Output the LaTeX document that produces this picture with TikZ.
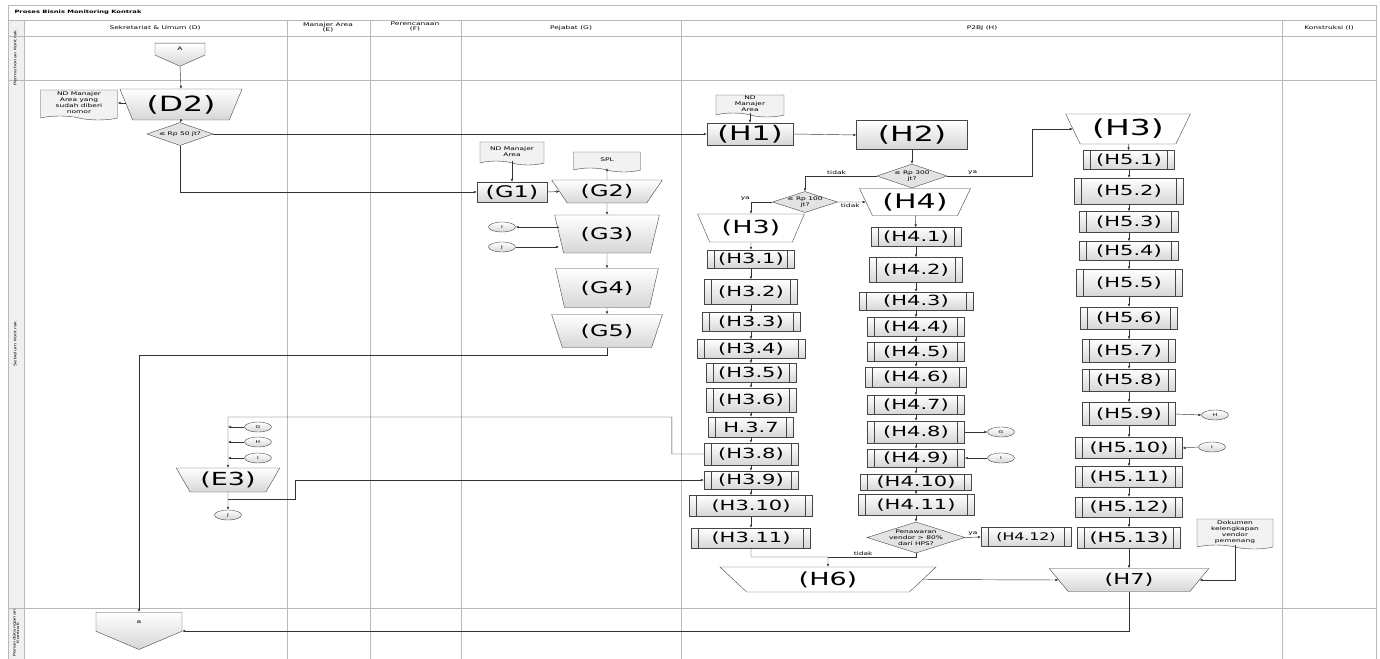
\documentclass[tikz,border=0pt]{standalone}
\usepackage{fontspec}
\setmainfont{DejaVu Sans}[FakeStretch=1.5]
\usetikzlibrary{shapes.geometric,shapes.symbols,arrows.meta,positioning}
\newcommand{\fsz}[1]{\fontsize{#1}{#1}\selectfont}
\newcommand{\dtext}[1]{\makebox[0pt]{\smash{\raisebox{-1.6pt}{\begin{tabular}{@{}c@{}}#1\end{tabular}}}}}

\tikzset{
  lane/.style={draw=gray!55, line width=0.9pt},
  conn/.style={draw=gray!40!black, line width=0.45pt, -{Latex[length=3pt,width=2.6pt]}},
  link/.style={draw=gray!40!black, line width=0.45pt},
  grayfill/.style={top color=white, bottom color=gray!32},
  task/.style 2 args={rectangle, draw=gray!55!black, grayfill, minimum width=#1, minimum height=#2, inner sep=0pt},
  proc/.style 2 args={task={#1}{#2}, font=\fsz{14}, path picture={
      \draw[gray!55!black] ([xshift=7pt]path picture bounding box.north west) -- ([xshift=7pt]path picture bounding box.south west);
      \draw[gray!55!black] ([xshift=-7pt]path picture bounding box.north east) -- ([xshift=-7pt]path picture bounding box.south east);}},
  manop/.style 2 args={trapezium, trapezium stretches=true, trapezium left angle=118, trapezium right angle=118, draw=gray!55!black, fill=white, minimum width=#1, minimum height=#2, inner sep=0pt},
  tang/.style={trapezium left angle=#1, trapezium right angle=#1},
  decision/.style 2 args={diamond, draw=gray!55!black, fill=gray!22, minimum width=#1, minimum height=#2, inner sep=0pt, font=\fontsize{5}{6}\selectfont},
  jump/.style={ellipse, draw=gray!55!black, grayfill, minimum width=27, minimum height=10, inner sep=0pt, font=\fsz{4}},
  doc/.style 2 args={tape, tape bend top=none, tape bend bottom=out and in, tape bend height=4pt, draw=gray!55!black, fill=gray!10, minimum width=#1, minimum height=#2, inner sep=0pt, align=center, font=\fontsize{5}{6}\selectfont},
  offpage/.style 2 args={signal, signal to=south, signal from=nowhere, draw=gray!55!black, grayfill, minimum width=#1, minimum height=#2, inner sep=0pt, font=\fsz{5}},
  lbl/.style={font=\fsz{5}, inner sep=1pt},
  head/.style={font=\fsz{5}, align=center, inner sep=0pt},
  side/.style={font=\fsz{3.5}, rotate=90, inner sep=0pt, align=center},
}

\begin{document}
\begin{tikzpicture}[x=1pt, y=-1pt]
\useasboundingbox (0,0) rectangle (1380,658);
% swimlanes
\fill[gray!12] (8,20) rectangle (24,665);
\draw[lane] (8,5) rectangle (1376,665);
\draw[lane] (8,20) -- (1376,20);
\draw[lane] (8,36) -- (1376,36);
\draw[lane] (8,80) -- (1376,80);
\draw[lane] (8,608) -- (1376,608);
\draw[lane] (24,20) -- (24,665);
\draw[lane] (287,20) -- (287,665);
\draw[lane] (370,20) -- (370,665);
\draw[lane] (461,20) -- (461,665);
\draw[lane] (681,20) -- (681,665);
\draw[lane] (1282,20) -- (1282,665);
\node[font=\fsz{4.5}\bfseries, anchor=west] (title) at (11,12) {Proses Bisnis Monitoring Kontrak};
\node[head] (hD) at (155,28) {Sekretariat \& Umum (D)};
\node[head] (hE) at (328,27) {Manajer Area\\(E)};
\node[head] (hF) at (415,27) {Perencanaan\\(F)};
\node[head] (hG) at (571,28) {Pejabat (G)};
\node[head] (hH) at (982,28) {P2BJ (H)};
\node[head] (hI) at (1329,28) {Konstruksi (I)};
\node[side] (r1) at (15,58) {Permohonan Kontrak};
\node[side] (r2) at (15,344) {Sebelum Kontrak};
\node[side] (r3) at (16,633) {Penandatanganan\\Kontrak};

% Sekretariat & Umum
\node[offpage={50}{13}, signal pointer angle=132, anchor=north] (offA) at (180,43) {A};
\node[manop={123}{31}, tang=116, grayfill, font=\fsz{21}] (D2) at (181,104.5) {(D2)};
\node[doc={77}{30}] (docD) at (79,103) {ND Manajer\\Area yang\\sudah diberi\\nomor};
\node[decision={66}{23}] (dec50) at (180,134) {\dtext{≤ Rp 50 jt?}};
\node[jump] (circG1) at (258,427) {G};
\node[jump] (circH1) at (258,442) {H};
\node[jump] (circI4) at (258,458) {I};
\coordinate (jE) at (228,417);
\node[manop={104}{24}, tang=122, grayfill, font=\fsz{18}] (E3) at (228,480) {(E3)};
\node[jump] (circJ2) at (228,515) {J};
\node[offpage={86}{20}, signal pointer angle=134, anchor=north] (offa) at (139,612) {a};
\path (offa.north) ++(0,19) coordinate (aIn);

% Pejabat
\node[doc={64}{23}] (docG) at (512,151.5) {ND Manajer\\Area};
\node[task={70}{20}, font=\fsz{16}] (G1) at (512,192) {(G1)};
\node[manop={111}{23}, tang=126, grayfill, font=\fsz{16}] (G2) at (607,191.5) {(G2)};
\node[doc={67}{20}] (docSPL) at (607,160) {SPL};
\node[manop={105}{38}, tang=111, grayfill, font=\fsz{16}] (G3) at (607,234) {(G3)};
\node[jump] (circI1) at (502,227) {I};
\node[jump] (circJ1) at (502,247) {J};
\node[manop={103}{39}, tang=111, grayfill, font=\fsz{16}] (G4) at (607,288) {(G4)};
\node[manop={111}{33}, tang=114, grayfill, font=\fsz{16}] (G5) at (607,331) {(G5)};

% P2BJ
\node[doc={68}{22}] (docH) at (750,104) {ND\\Manajer\\Area};
\node[task={86}{22}, font=\fsz{20}] (H1) at (750,134) {(H1)};
\node[task={111}{29}, font=\fsz{21}] (H2) at (912,135) {(H2)};
\node[decision={70}{24}] (dec300) at (912,176) {\dtext{≤ Rp 300\\jt?}};
\node[manop={125}{30}, tang=119, font=\fsz{22}] (H3r) at (1128,129) {(H3)};
\node[decision={65}{21}] (dec100) at (805,202) {\dtext{≤ Rp 100\\jt?}};
\node[manop={112}{27}, tang=119, font=\fsz{20}] (H4) at (915,202) {(H4)};
\node[manop={107}{28}, tang=118, font=\fsz{18}] (H3l) at (751,228) {(H3)};

\node[proc={87}{18}] (H31) at (751,259) {(H3.1)};
\node[proc={93}{25}] (H32) at (751,292) {(H3.2)};
\node[proc={98}{19}] (H33) at (751,322) {(H3.3)};
\node[proc={108}{19}] (H34) at (751,349) {(H3.4)};
\node[proc={90}{19}] (H35) at (751,373) {(H3.5)};
\node[proc={90}{24}] (H36) at (751,400) {(H3.6)};
\node[proc={85}{20}] (H37) at (751,427) {H.3.7};
\node[proc={94}{22}] (H38) at (751,454) {(H3.8)};
\node[proc={94}{18}] (H39) at (751,480) {(H3.9)};
\node[proc={123}{21}] (H310) at (751,506) {(H3.10)};
\node[proc={119}{20}] (H311) at (751,538) {(H3.11)};

\node[proc={90}{19}] (H41) at (916,237) {(H4.1)};
\node[proc={93}{25}] (H42) at (916,270) {(H4.2)};
\node[proc={114}{18}] (H43) at (916,301) {(H4.3)};
\node[proc={97}{19}] (H44) at (916,327) {(H4.4)};
\node[proc={97}{19}] (H45) at (916,352) {(H4.5)};
\node[proc={101}{20}] (H46) at (916,377) {(H4.6)};
\node[proc={97}{19}] (H47) at (916,405) {(H4.7)};
\node[proc={97}{22}] (H48) at (916,432) {(H4.8)};
\node[proc={97}{18}] (H49) at (916,458) {(H4.9)};
\node[proc={111}{16}] (H410) at (916,482) {(H4.10)};
\node[proc={116}{21}] (H411) at (916,505) {(H4.11)};
\node[decision={98}{31}] (decPen) at (916,537.5) {\dtext{Penawaran\\vendor > 80\%\\dari HPS?}};
\node[proc={90}{19}, font=\fsz{10.5}] (H412) at (1026,537) {(H4.12)};
\node[jump] (circG2) at (1001,432) {G};
\node[jump] (circI2) at (1001,458) {I};

\node[proc={91}{19}] (H51) at (1129,160) {(H5.1)};
\node[proc={109}{26}] (H52) at (1129,191) {(H5.2)};
\node[proc={99}{21}] (H53) at (1129,222) {(H5.3)};
\node[proc={99}{19}] (H54) at (1129,251) {(H5.4)};
\node[proc={106}{27}] (H55) at (1129,283) {(H5.5)};
\node[proc={97}{22}] (H56) at (1129,318) {(H5.6)};
\node[proc={93}{23}] (H57) at (1129,351) {(H5.7)};
\node[proc={93}{22}] (H58) at (1129,380) {(H5.8)};
\node[proc={93}{23}] (H59) at (1129,414) {(H5.9)};
\node[proc={107}{21}] (H510) at (1129,448) {(H5.10)};
\node[proc={107}{21}] (H511) at (1129,477) {(H5.11)};
\node[proc={107}{20}] (H512) at (1129,507) {(H5.12)};
\node[proc={103}{21}] (H513) at (1129,538) {(H5.13)};
\node[jump] (circH2) at (1215,415) {H};
\node[jump] (circI3) at (1212,447) {I};
\node[doc={76}{30}] (docK) at (1235,532) {Dokumen\\kelengkapan\\vendor\\pemenang};

\coordinate (jH6) at (828,557);
\node[manop={217}{25}, tang=121, font=\fsz{18}] (H6) at (828,579.5) {(H6)};
\node[manop={160}{23}, tang=119.5, grayfill, font=\fsz{15}] (H7) at (1129,580) {(H7)};

% connectors
\draw[conn] (offA.south) -- (D2.north);
\draw[conn] (D2.west |- docD.east) -- (docD.east);
\draw[conn] (D2.south) -- (dec50.north);
\draw[conn] (dec50.east) -- (H1.west);
\draw[conn] (dec50.south) |- (G1.west);
\draw[conn] (docG.south) -- (G1.north);
\draw[conn] (G1.east) -- (G2.west);
\draw[conn] (G2.north) -- (docSPL.south);
\draw[conn] (G2.south) -- (G3.north);
\draw[conn] (G3.west |- circI1) -- (circI1.east);
\draw[conn] (circJ1.east) -- (G3.west |- circJ1);
\draw[conn] (G3.south) -- (G4.north);
\draw[conn] (G4.south) -- (G5.north);
\draw[conn] (G5.south) -- ++(0,8) -| (offa.north);

\draw[conn] (H38.west) -- ++(-32,0) |- (jE) -- (E3.north);
\draw[conn] (circG1.west) -- (circG1 -| jE);
\draw[conn] (circH1.west) -- (circH1 -| jE);
\draw[conn] (circI4.west) -- (circI4 -| jE);
\draw[conn] (E3.south) -- (circJ2.north);
\draw[conn] ([yshift=-7pt]E3.south) -- ++(67,0) |- (H39.west);

\draw[conn] (docH.south) -- (H1.north);
\draw[conn] (H1.east) -- (H2.west);
\draw[conn] (H2.south) -- (dec300.north);
\draw[conn] (dec300.east) -- ++(85,0) node[lbl, above, pos=0.3] {ya} |- (H3r.west);
\draw[conn] (dec300.west) -| node[lbl, above, pos=0.28] {tidak} (dec100.north);
\draw[conn] (dec100.west) -| node[lbl, above left, pos=0.5] {ya} (H3l.north);
\draw[conn] (dec100.east) -- node[lbl, below, pos=0.45] {tidak} (H4.west);

\draw[conn] (H3l) -- (H31);
\draw[conn] (H31) -- (H32);
\draw[conn] (H32) -- (H33);
\draw[conn] (H33) -- (H34);
\draw[conn] (H34) -- (H35);
\draw[conn] (H35) -- (H36);
\draw[conn] (H36) -- (H37);
\draw[conn] (H37) -- (H38);
\draw[conn] (H38) -- (H39);
\draw[conn] (H39) -- (H310);
\draw[conn] (H310) -- (H311);
\draw[conn] (H311.south) |- (jH6) -- (H6.north);

\draw[conn] (H4) -- (H41);
\draw[conn] (H41) -- (H42);
\draw[conn] (H42) -- (H43);
\draw[conn] (H43) -- (H44);
\draw[conn] (H44) -- (H45);
\draw[conn] (H45) -- (H46);
\draw[conn] (H46) -- (H47);
\draw[conn] (H47) -- (H48);
\draw[conn] (H48) -- (H49);
\draw[conn] (H49) -- (H410);
\draw[conn] (H410) -- (H411);
\draw[conn] (H411) -- (decPen);
\draw[conn] (decPen.east) -- node[lbl, above, pos=0.5] {ya} (H412.west);
\draw[link] (decPen.south) |- node[lbl, above, pos=0.8] {tidak} (jH6);
\draw[conn] (H48.east) -- (circG2.west);
\draw[conn] (circI2.west) -- (H49.east);

\draw[conn] (H3r) -- (H51);
\draw[conn] (H51) -- (H52);
\draw[conn] (H52) -- (H53);
\draw[conn] (H53) -- (H54);
\draw[conn] (H54) -- (H55);
\draw[conn] (H55) -- (H56);
\draw[conn] (H56) -- (H57);
\draw[conn] (H57) -- (H58);
\draw[conn] (H58) -- (H59);
\draw[conn] (H59) -- (H510);
\draw[conn] (H510) -- (H511);
\draw[conn] (H511) -- (H512);
\draw[conn] (H512) -- (H513);
\draw[conn] (H513) -- (H7);
\draw[conn] (H59.east) -- (circH2.west);
\draw[conn] (circI3.west) -- (H510.east);
\draw[conn] (docK.south) |- (H7.east);
\draw[conn] (H6.east) -- (H7.west);
\draw[conn] (H7.south) |- (aIn -| offa.east);
\end{tikzpicture}
\end{document}
